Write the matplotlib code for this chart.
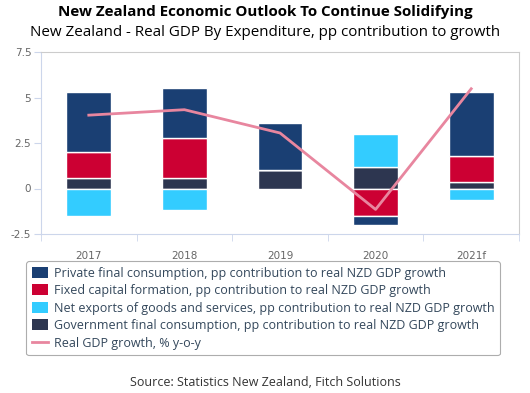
import matplotlib.pyplot as plt
import numpy as np
from matplotlib.patches import Patch
from matplotlib.lines import Line2D

years = ['2017', '2018', '2019', '2020', '2021f']
private = [3.3, 2.7, 2.6, -0.5, 3.5]
fixed = [1.4, 2.2, 0.0, -1.5, 1.42]
net_exports = [-1.5, -1.2, 0.0, 1.8, -0.64]
government = [0.6, 0.6, 1.0, 1.17, 0.38]
gdp_growth = [4.03, 4.33, 3.05, -1.15, 5.48]

labels = [
    'Private final consumption, pp contribution to real NZD GDP growth',
    'Fixed capital formation, pp contribution to real NZD GDP growth',
    'Net exports of goods and services, pp contribution to real NZD GDP growth',
    'Government final consumption, pp contribution to real NZD GDP growth',
    'Real GDP growth, % y-o-y',
]
colors = ['#1a3f73', '#cc0033', '#33ccff', '#2d3650']
line_color = '#e8869f'
axis_color = '#ccd6eb'

fig = plt.figure(figsize=(5.3, 3.93), dpi=100)
ax = fig.add_axes([41 / 530, 1 - 234 / 393, 478 / 530, 182 / 393])

x = np.arange(len(years))
width = 0.47
pos_bottom = np.zeros(len(years))
neg_bottom = np.zeros(len(years))
# stacking order from the zero line outwards
order = [(government, colors[3]), (net_exports, colors[2]), (fixed, colors[1]), (private, colors[0])]
for vals, col in order:
    vals = np.array(vals)
    bottoms = np.where(vals >= 0, pos_bottom, neg_bottom)
    ax.bar(x, vals, width, bottom=bottoms, color=col, edgecolor='white', linewidth=1, zorder=2)
    pos_bottom += np.where(vals >= 0, vals, 0)
    neg_bottom += np.where(vals < 0, vals, 0)

ax.plot(x, gdp_growth, color=line_color, linewidth=2, zorder=3)

ax.set_xlim(-0.5, len(years) - 0.5)
ax.set_ylim(-2.5, 7.5)
ax.set_yticks([-2.5, 0, 2.5, 5, 7.5])
ax.set_yticklabels(['-2.5', '0', '2.5', '5', '7.5'])
ax.set_xticks(x)
ax.set_xticklabels(years)
ax.set_xticks(np.arange(-0.5, len(years)), minor=True)
ax.tick_params(axis='x', which='major', length=0, pad=12, labelsize=7.5, labelcolor='#666666')
ax.tick_params(axis='x', which='minor', length=5, color=axis_color, direction='out')
ax.tick_params(axis='y', length=5, color=axis_color, labelsize=7.5, labelcolor='#666666', pad=2)
for side in ['left', 'bottom']:
    ax.spines[side].set_color(axis_color)
for side in ['top', 'right']:
    ax.spines[side].set_color('#cccccc')
    ax.spines[side].set_linewidth(0.8)

fig.text(0.5, 1 - 12 / 393, 'New Zealand Economic Outlook To Continue Solidifying',
         ha='center', va='center', fontsize=10.9, fontweight='bold', family='Open Sans', color='#000000')
fig.text(0.5, 1 - 33 / 393, 'New Zealand - Real GDP By Expenditure, pp contribution to growth',
         ha='center', va='center', fontsize=10.9, family='Open Sans', color='#000000')

handles = [Patch(facecolor=c, edgecolor='none') for c in colors]
handles.append(Line2D([0], [0], color=line_color, linewidth=2))
leg = fig.legend(handles, labels, loc='upper left', bbox_to_anchor=(26 / 530, 1 - 261 / 393),
                 prop={'family': 'Open Sans', 'size': 9}, labelcolor='#33475b',
                 frameon=True, fancybox=True, edgecolor='#999999', handlelength=1.3,
                 handleheight=1.0, handletextpad=0.45, labelspacing=0.36, borderpad=0.45,
                 borderaxespad=0)
leg.get_frame().set_linewidth(0.8)

fig.text(0.5, 1 - 383 / 393, 'Source: Statistics New Zealand, Fitch Solutions',
         ha='center', va='center', fontsize=9, family='Open Sans', color='#333333')

fig.savefig('out.png', dpi=100)
